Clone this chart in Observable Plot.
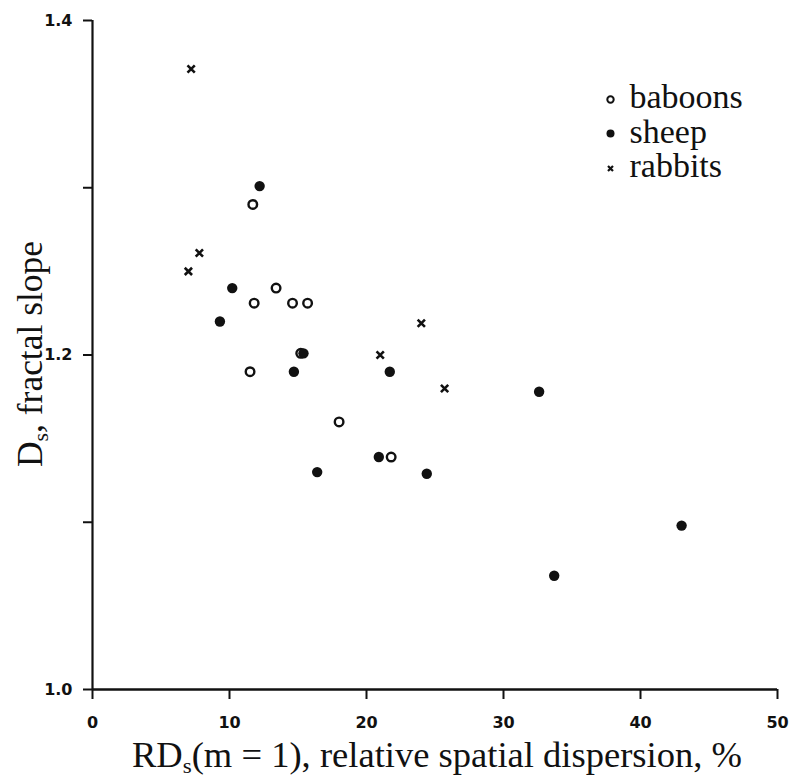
<!DOCTYPE html>
<html>
<head>
<meta charset="utf-8">
<script src="https://cdn.jsdelivr.net/npm/d3@7"></script>
<script src="https://cdn.jsdelivr.net/npm/@observablehq/plot@0.6"></script>
<style>
  html, body { margin: 0; padding: 0; background: #fff; }
  #chart { width: 800px; height: 781px; }
</style>
</head>
<body>
<div id="chart"></div>
<script>
// Data
const baboonsX = [11.7, 13.4, 11.8, 14.6, 15.7, 15.2, 11.5, 18.0, 21.8];
const baboonsY = [1.290, 1.240, 1.231, 1.231, 1.231, 1.201, 1.190, 1.160, 1.139];
const sheepX = [12.2, 10.2, 9.3, 15.4, 14.7, 21.7, 16.4, 20.9, 24.4, 32.6, 43.0, 33.7];
const sheepY = [1.301, 1.240, 1.220, 1.201, 1.190, 1.190, 1.130, 1.139, 1.129, 1.178, 1.098, 1.068];
const rabbitsX = [7.2, 7.8, 7.0, 24.0, 21.0, 25.7];
const rabbitsY = [1.371, 1.261, 1.250, 1.219, 1.200, 1.180];

const xTicks = [0, 10, 20, 30, 40, 50];
const xTickLabels = ["0", "10", "20", "30", "40", "50"];
const yTicks = [1.0, 1.1, 1.2, 1.3, 1.4];
const yTickLabels = ["1.0", "", "1.2", "", "1.4"];
const legendNames = ["baboons", "sheep", "rabbits"];

const baboons = baboonsX.map((x, i) => ({x, y: baboonsY[i]}));
const sheep = sheepX.map((x, i) => ({x, y: sheepY[i]}));
const rabbits = rabbitsX.map((x, i) => ({x, y: rabbitsY[i]}));
const ink = "#111";
const serif = "'Liberation Serif', 'Times New Roman', serif";
const tickFont = {fontFamily: "'DejaVu Sans', sans-serif", fontSize: 16, fontWeight: "bold", fill: ink};
const legendFont = {fontFamily: serif, fontSize: 34, fill: ink, textAnchor: "start", lineAnchor: "bottom", frameAnchor: "top-left"};

const plot = Plot.plot({
  width: 800,
  height: 781,
  marginLeft: 92,
  marginRight: 23,
  marginTop: 20,
  marginBottom: 92,
  style: {background: "#fff", color: ink},
  x: {domain: [0, 50]},
  y: {domain: [1.0, 1.4]},
  marks: [
    Plot.axisX({ticks: xTicks, tickSize: 10, tickFormat: () => "", label: null, strokeWidth: 2}),
    Plot.axisY({ticks: yTicks, tickSize: 9, tickFormat: () => "", label: null, strokeWidth: 2}),
    // tick labels (wide bold sans as in the reference)
    Plot.text(xTicks, {...tickFont, x: (d) => d, text: (d, i) => xTickLabels[i], frameAnchor: "bottom", dy: 33, lineAnchor: "middle"}),
    Plot.text(yTicks, {...tickFont, y: (d) => d, text: (d, i) => yTickLabels[i], frameAnchor: "left", dx: -20, textAnchor: "end", lineAnchor: "middle"}),
    Plot.ruleX([0], {stroke: ink, strokeWidth: 2.2}),
    Plot.ruleY([1.0], {stroke: ink, strokeWidth: 2.4}),
    Plot.dot(baboons, {x: "x", y: "y", r: 4.3, stroke: ink, strokeWidth: 2.4, fill: "#fff"}),
    Plot.dot(sheep, {x: "x", y: "y", r: 5.2, fill: ink, stroke: null}),
    Plot.dot(rabbits, {x: "x", y: "y", r: 3.4, symbol: "times", stroke: ink, strokeWidth: 2.6}),
    // legend
    Plot.dot([legendNames[0]], {frameAnchor: "top-left", dx: 518, dy: 79, r: 3.2, stroke: ink, strokeWidth: 2, fill: "#fff"}),
    Plot.dot([legendNames[1]], {frameAnchor: "top-left", dx: 518, dy: 113, r: 4, fill: ink}),
    Plot.dot([legendNames[2]], {frameAnchor: "top-left", dx: 518, dy: 148, r: 2.4, symbol: "times", stroke: ink, strokeWidth: 2.2}),
    Plot.text([legendNames[0]], {...legendFont, text: (d) => d, dx: 537, dy: 87}),
    Plot.text([legendNames[1]], {...legendFont, text: (d) => d, dx: 537, dy: 122}),
    Plot.text([legendNames[2]], {...legendFont, text: (d) => d, dx: 537, dy: 156})
  ]
});

const svg = d3.select(plot);

// axis titles with subscripts
const ylab = svg.append("text")
  .attr("transform", "translate(42,354) rotate(-90)")
  .attr("text-anchor", "middle")
  .attr("textLength", 226).attr("lengthAdjust", "spacingAndGlyphs")
  .attr("font-family", serif).attr("font-size", 36).attr("fill", ink);
ylab.append("tspan").text("D");
ylab.append("tspan").attr("font-size", 22).attr("dy", 6).text("s");
ylab.append("tspan").attr("dy", -6).text(", fractal slope");

const xlab = svg.append("text")
  .attr("x", 437).attr("y", 767)
  .attr("text-anchor", "middle")
  .attr("textLength", 610).attr("lengthAdjust", "spacingAndGlyphs")
  .attr("font-family", serif).attr("font-size", 35).attr("fill", ink);
xlab.append("tspan").text("RD");
xlab.append("tspan").attr("font-size", 22).attr("dy", 6).text("s");
xlab.append("tspan").attr("dy", -6).text("(m = 1), relative spatial dispersion, %");

document.getElementById("chart").appendChild(plot);
</script>
</body>
</html>
